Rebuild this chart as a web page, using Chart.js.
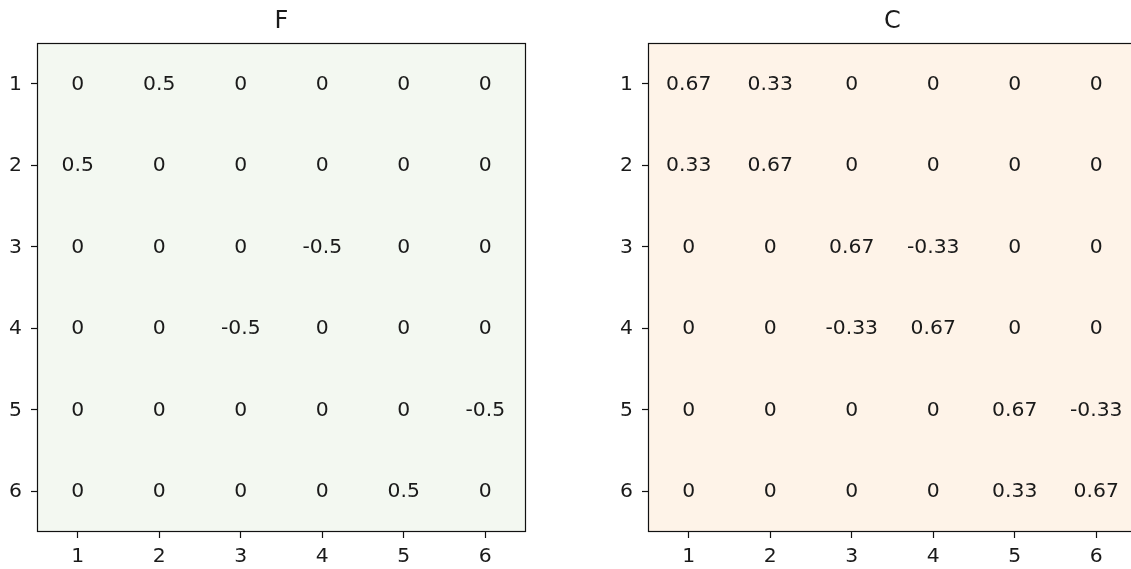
<!DOCTYPE html>
<html>
<head>
<meta charset="utf-8">
<script src="https://cdn.jsdelivr.net/npm/chart.js@4/dist/chart.umd.min.js"></script>
<style>
html,body{margin:0;padding:0;background:#fff;overflow:hidden;width:1131px;height:569px;}
.panel{position:absolute;top:0;width:560px;height:569px;}
</style>
</head>
<body>
<div class="panel" style="left:0px"><canvas id="chartF" width="560" height="569"></canvas></div>
<div class="panel" style="left:611px"><canvas id="chartC" width="560" height="569"></canvas></div>
<script>
// matrix data
const rowLabels = ['1','2','3','4','5','6'];
const colLabels = ['1','2','3','4','5','6'];

const valuesF = [
  ['0','0.5','0','0','0','0'],
  ['0.5','0','0','0','0','0'],
  ['0','0','0','-0.5','0','0'],
  ['0','0','-0.5','0','0','0'],
  ['0','0','0','0','0','-0.5'],
  ['0','0','0','0','0.5','0']
];

const valuesC = [
  ['0.67','0.33','0','0','0','0'],
  ['0.33','0.67','0','0','0','0'],
  ['0','0','0.67','-0.33','0','0'],
  ['0','0','-0.33','0.67','0','0'],
  ['0','0','0','0','0.67','-0.33'],
  ['0','0','0','0','0.33','0.67']
];

const FONT = "'DejaVu Sans', sans-serif";
const SX = 1.07; // text in the picture is slightly wide

function makePoints(values){
  let pts=[];
  for(let i=0;i<rowLabels.length;i++){
    for(let j=0;j<colLabels.length;j++){
      pts.push({x:colLabels[j], y:rowLabels[i], label:values[i][j]});
    }
  }
  return pts;
}

function wideText(ctx,txt,x,y,size,align,sx){
  ctx.save();
  ctx.translate(x,y);
  ctx.scale(sx||SX,1);
  ctx.font=size+'px '+FONT;
  ctx.textAlign=align||'center';
  ctx.textBaseline='middle';
  ctx.fillText(txt,0,0);
  ctx.restore();
}

const matrixPlugin = {
  id:'matrixPlugin',
  beforeDraw(chart, args, opts){
    const a=chart.chartArea, ctx=chart.ctx;
    ctx.save();
    ctx.fillStyle=opts.bg;
    ctx.fillRect(a.left,a.top,a.right-a.left,a.bottom-a.top);
    ctx.restore();
  },
  afterDraw(chart, args, opts){
    const a=chart.chartArea, ctx=chart.ctx;
    ctx.save();
    ctx.fillStyle='#1a1a1a';
    // cell texts
    const meta=chart.getDatasetMeta(0);
    const data=chart.data.datasets[0].data;
    meta.data.forEach((p,i)=>{
      wideText(ctx,data[i].label,p.x,p.y+1,19);
    });
    // tick labels
    const xs=chart.scales.x, ys=chart.scales.y;
    xs.ticks.forEach((t,i)=>{
      wideText(ctx,colLabels[i],xs.getPixelForTick(i),a.bottom+25,19);
    });
    ys.ticks.forEach((t,i)=>{
      wideText(ctx,rowLabels[i],a.left-15,ys.getPixelForTick(i)+1,19,'right');
    });
    // frame
    ctx.strokeStyle='#111';
    ctx.lineWidth=1.2;
    ctx.strokeRect(a.left+0.5,a.top+0.5,a.right-a.left-1,a.bottom-a.top-1);
    // title
    wideText(ctx,opts.title,(a.left+a.right)/2,22,24,'center',1.0);
    ctx.restore();
  }
};

function drawMatrix(id, values, title, bg){
  new Chart(document.getElementById(id),{
    type:'scatter',
    data:{
      datasets:[{
        data:makePoints(values),
        pointRadius:0,
        pointHoverRadius:0
      }]
    },
    options:{
      responsive:false,
      animation:false,
      events:[],
      layout:{padding:{top:43,right:34,bottom:0,left:0}},
      plugins:{
        legend:{display:false},
        tooltip:{enabled:false},
        matrixPlugin:{title:title,bg:bg}
      },
      scales:{
        x:{
          type:'category',
          labels:colLabels,
          offset:true,
          border:{display:false},
          grid:{drawOnChartArea:false,drawTicks:true,tickLength:6,tickColor:'#111',tickWidth:1.2,offset:false},
          ticks:{display:false},
          afterFit(s){s.height=37;}
        },
        y:{
          type:'category',
          labels:rowLabels,
          offset:true,
          border:{display:false},
          grid:{drawOnChartArea:false,drawTicks:true,tickLength:6,tickColor:'#111',tickWidth:1.2,offset:false},
          ticks:{display:false},
          afterFit(s){s.width=37;}
        }
      }
    },
    plugins:[matrixPlugin]
  });
}

drawMatrix('chartF',valuesF,'F','#f3f8f1');
drawMatrix('chartC',valuesC,'C','#fef3e8');
</script>
</body>
</html>
